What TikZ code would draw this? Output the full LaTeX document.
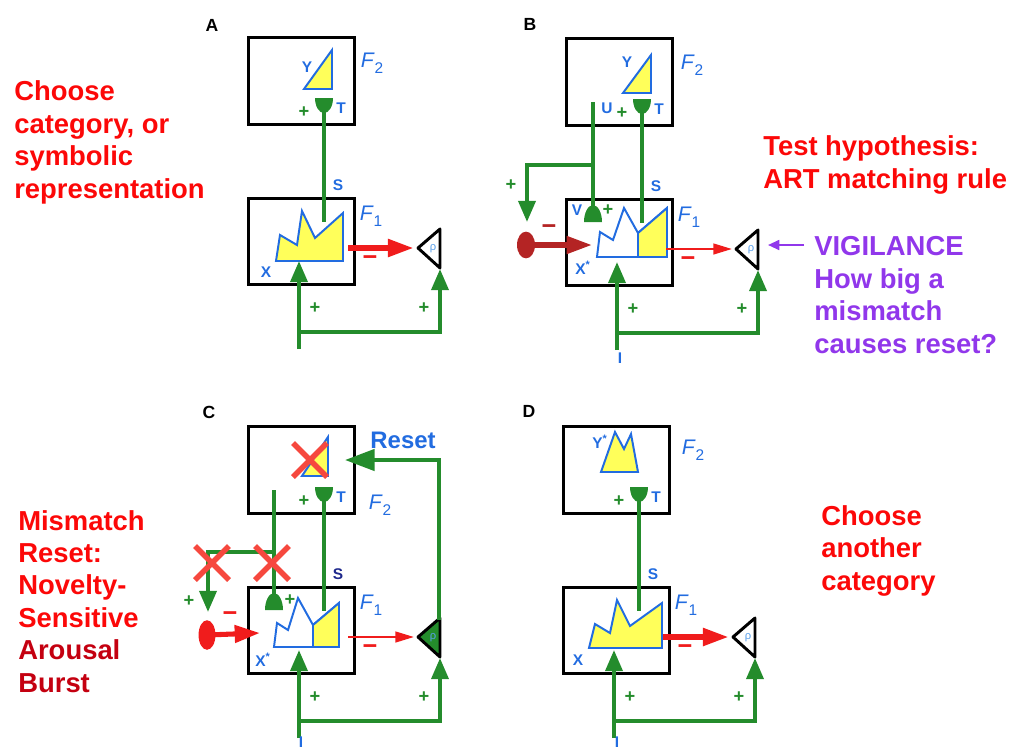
\documentclass[tikz,border=0pt]{standalone}
\usepackage{fontspec}
\setmainfont{Liberation Sans}
\setsansfont{Liberation Sans}
\usetikzlibrary{arrows.meta,shapes.geometric}

\definecolor{artgreen}{RGB}{36,140,44}
\definecolor{artblue}{RGB}{34,108,224}
\definecolor{artnavy}{RGB}{30,40,140}
\definecolor{artlightblue}{RGB}{90,160,235}
\definecolor{artyellow}{RGB}{255,255,90}
\definecolor{artred}{RGB}{240,28,28}
\definecolor{textred}{RGB}{252,8,8}
\definecolor{darkred}{RGB}{196,0,16}
\definecolor{dotred}{RGB}{180,36,36}
\definecolor{crossred}{RGB}{246,72,62}
\definecolor{artpurple}{RGB}{145,55,235}

\newcommand\Fsub[1]{\textit{F}\raisebox{-0.55ex}{\fontsize{11pt}{11pt}\selectfont #1}}

\tikzset{
  layerbox/.style={draw, line width=2.1pt, minimum width=2.63cm, minimum height=2.16cm, inner sep=0pt},
  wire/.style={draw=artgreen, line width=2.85pt},
  garrow/.style={wire, -{Triangle[length=15pt, width=12pt]}},
  cupfill/.style={fill=artgreen},
  patshape/.style={draw=artblue, line width=1.4pt, fill=artyellow},
  redwire/.style={draw=artred},
  dotarrow/.style={line width=3.6pt, -{Triangle[length=18pt, width=12pt]}},
  rhotri/.style={draw, line width=2.1pt, line join=round},
  rholbl/.style={text=artlightblue, font=\fontsize{8pt}{8pt}\selectfont, inner sep=0pt},
  tag/.style={text=artblue, font=\fontsize{11pt}{11pt}\selectfont\bfseries, inner sep=0pt},
  plussign/.style={text=artgreen, font=\fontsize{13pt}{13pt}\selectfont\bfseries, inner sep=0pt},
  minussign/.style={text=artred, font=\fontsize{18pt}{18pt}\selectfont\bfseries, inner sep=0pt},
  flabel/.style={text=artblue, font=\fontsize{15pt}{15pt}\selectfont, inner sep=0pt},
  crossmark/.style={draw=crossred, line width=3.8pt},
  bigtext/.style={font=\fontsize{19.5pt}{23pt}\selectfont\bfseries, align=left, anchor=base west, inner sep=0pt},
  panellabel/.style={font=\fontsize{12.5pt}{12.5pt}\selectfont\bfseries, inner sep=0pt},
}

\begin{document}
\begin{tikzpicture}[x=0.025cm, y=-0.025cm]
  \useasboundingbox (0,0) rectangle (1013,750);

  % 1. patterns stored in F1 and F2 (drawn first, the S pathways lie on top)
  % A
  \draw[patshape] (276,261) -- (280,235) -- (297,245) -- (302,211) -- (315,238) -- (343,213) -- (343,261) -- cycle;
  \draw[patshape] (304,89) -- (332,89) -- (332,50) -- cycle;
  % B
  \begin{scope}[shift={(318,1)}]
    \draw[patshape, fill=white] (279,256) -- (282,231) -- (295,239) -- (306,207) -- (320,232) -- (349,207) -- (349,256) -- cycle;
    \draw[patshape] (320,232) -- (349,207) -- (349,256) -- (320,256) -- cycle;
    \draw[patshape] (305,92) -- (333,92) -- (333,54) -- cycle;
  \end{scope}
  % C
  \begin{scope}[shift={(0,389)}]
    \draw[patshape, fill=white] (274,258) -- (277,234) -- (288,241) -- (298,209) -- (313,236) -- (339,214) -- (339,258) -- cycle;
    \draw[patshape] (313,236) -- (339,214) -- (339,258) -- (313,258) -- cycle;
    \draw[patshape] (302,87) -- (328,87) -- (328,48) -- cycle;
  \end{scope}
  % D
  \begin{scope}[shift={(315,389)}]
    \draw[patshape] (274,259) -- (280,235) -- (295,244) -- (302,211) -- (315,237) -- (347,214) -- (347,259) -- cycle;
    \draw[patshape] (286,83) -- (300,43) -- (309,60) -- (316,45) -- (323,83) -- cycle;
  \end{scope}

  % 2. the same circuit in each panel
  \foreach \p/\dx/\dy/\lw/\rf/\sc in {A/0/0/4.3/white/artblue, B/318/1/1.6/white/artblue,
                                     C/0/389/1.6/artgreen/artnavy, D/315/389/4.3/white/artblue}{
    \begin{scope}[shift={(\dx,\dy)}]
      \node[layerbox] (f2\p) at (301.5,81) {};
      \node[layerbox] (f1\p) at (301.5,241.5) {};
      % top-down expectation T -> S
      \coordinate (t\p) at (324,110);
      \coordinate (s\p) at (324,222);
      \fill[cupfill] (315,98) -- (333,98) arc[start angle=0, end angle=-180, x radius=6.4pt, y radius=10.7pt] -- cycle;
      \draw[wire] (t\p) -- (s\p);
      \node[tag] (tl\p) at (341,108) {T};
      \node[plussign] (tp\p) at (304,112) {+};
      \node[tag, text=\sc] (sl\p) at (338,185) {S};
      \node[flabel] (f1l\p) at (371,216) {\Fsub{1}};
      % F1 -> rho
      \pgfmathsetmacro{\headlen}{10+2*\lw}
      \pgfmathsetmacro{\headwid}{5+1.6*\lw}
      \coordinate (xr\p) at (348,248);
      \coordinate (rt\p) at (414,248);
      \draw[redwire, line width=\lw pt, -{Triangle[length=\headlen pt, width=\headwid pt]}] (xr\p) -- (rt\p);
      \node[minussign] (rm\p) at (370,261) {−};
      \draw[rhotri, fill=\rf] (418,248) -- (440,229) -- (440,268) -- cycle;
      \node[rholbl] (rho\p) at (433,249) {ρ};
      % bottom-up input
      \coordinate (i\p) at (299,349);
      \coordinate (j\p) at (299,332);
      \coordinate (xb\p) at (299,261);
      \coordinate (rb\p) at (440,269);
      \draw[garrow] (i\p) -- (xb\p);
      \draw[garrow] (j\p) -| (rb\p);
      \node[plussign] (ip\p) at (315,308) {+};
      \node[plussign] (rp\p) at (424,308) {+};
    \end{scope}
  }

  % 3. panel A
  \node[panellabel] (pA) at (212,25) {A};
  \node[flabel] (f2lA) at (372,63) {\Fsub{2}};
  \node[tag] (yA) at (307,67) {Y};
  \node[tag] (xA) at (266,272) {X};

  % 4. panel B
  \begin{scope}[shift={(318,1)}]
    \coordinate (uB) at (275,101);
    \coordinate (vB) at (275,206);
    \coordinate (bB) at (275,164);
    \coordinate (dB) at (209,221);
    \coordinate (xlB) at (274,244);
    \draw[wire] (uB) -- (vB);
    \fill[cupfill] (266,221) -- (284,221) arc[start angle=0, end angle=180, x radius=6.4pt, y radius=12pt] -- cycle;
    \draw[garrow] (bB) -| (dB);
    \node[ellipse, fill=dotred, minimum width=12.8pt, minimum height=19pt, inner sep=0pt] (dotB) at (208,244) {};
    \draw[dotarrow, draw=dotred] (dotB.center) -- (xlB);
    \node[minussign, text=dotred] (dmB) at (231,229) {−};
    \node[panellabel] (pB) at (212,23) {B};
    \node[flabel] (f2lB) at (374,64) {\Fsub{2}};
    \node[tag] (yB) at (309,61) {Y};
    \node[tag] (ulB) at (289,107) {U};
    \node[tag] (vlB) at (259,209) {V};
    \node[plussign] (vpB) at (290,209) {+};
    \node[plussign] (dpB) at (193,184) {+};
    \node[tag] (xB) at (265,267) {X\textsuperscript{*}};
    \node[tag] (inB) at (302,357) {I};
  \end{scope}
  \node[bigtext, text=textred] (testB) at (763,188) {Test hypothesis:\\ART matching rule};
  \node[bigtext, text=artpurple] (vigB) at (814,353) {VIGILANCE\\How big a\\mismatch\\causes reset?};
  \coordinate (vigfrom) at (804,245);
  \coordinate (vigto) at (768,245);
  \draw[artpurple, line width=1.5pt, -{Triangle[length=8pt, width=7pt]}] (vigfrom) -- (vigto);

  % 5. panel C
  \begin{scope}[shift={(0,389)}]
    \coordinate (uC) at (274,101);
    \coordinate (vC) at (274,206);
    \coordinate (bC) at (274,163);
    \coordinate (dC) at (208,223);
    \coordinate (xlC) at (260,244);
    \coordinate (rtopC) at (439,231);
    \coordinate (resC) at (345,71);
    \draw[wire] (uC) -- (vC);
    \fill[cupfill] (265,221) -- (283,221) arc[start angle=0, end angle=180, x radius=6.4pt, y radius=12pt] -- cycle;
    \draw[garrow] (bC) -| (dC);
    \draw[wire, -{Triangle[length=21pt, width=15pt]}] (rtopC) |- (resC);
    \node[ellipse, fill=artred, minimum width=12pt, minimum height=21pt, inner sep=0pt] (dotC) at (207,246) {};
    \draw[dotarrow, draw=artred] (dotC.center) -- (xlC);
    \foreach \cx/\cy in {212/174, 272/174, 310/71}
      \draw[crossmark] (\cx-17,\cy-17) -- (\cx+17,\cy+17) (\cx-17,\cy+17) -- (\cx+17,\cy-17);
    \node[minussign] (dmC) at (230,228) {−};
    \node[panellabel] (pC) at (209,23) {C};
    \node[flabel] (f2lC) at (380,116) {\Fsub{2}};
    \node[tag, font=\fontsize{17pt}{17pt}\selectfont\bfseries] (resetC) at (403,51) {Reset};
    \node[plussign] (dpC) at (189,212) {+};
    \node[plussign] (vpC) at (290,211) {+};
    \node[tag] (xC) at (263,271) {X\textsuperscript{*}};
    \node[tag] (inC) at (301,353) {I};
  \end{scope}

  % 6. panel D
  \begin{scope}[shift={(315,389)}]
    \node[panellabel] (pD) at (214,22) {D};
    \node[flabel] (f2lD) at (378,61) {\Fsub{2}};
    \node[tag] (yD) at (285,53) {Y\textsuperscript{*}};
    \node[tag] (xD) at (263,271) {X};
    \node[tag] (inD) at (302,353) {I};
  \end{scope}

  % 7. captions
  \node[bigtext, text=textred] (capA) at (14,198) {Choose\\category, or\\symbolic\\representation};
  \node[bigtext, text=textred] (capC) at (18,692) {Mismatch\\Reset:\\Novelty-\\Sensitive\\\textcolor{darkred}{Arousal}\\\textcolor{darkred}{Burst}};
  \node[bigtext, text=textred] (capD) at (821,590) {Choose\\another\\category};
\end{tikzpicture}
\end{document}
